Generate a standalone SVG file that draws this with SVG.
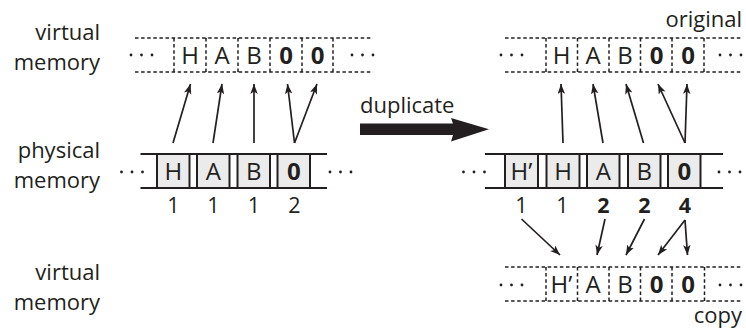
<svg xmlns="http://www.w3.org/2000/svg" width="746" height="333" viewBox="0 0 746 333">
  <style>
    text { font-family: "Open Sans", "Noto Sans", "DejaVu Sans", sans-serif; fill: #231f20; }
    .label { font-size: 22px; text-anchor: end; }
    .cell { font-size: 24px; text-anchor: middle; }
    .bold { font-weight: bold; }
    .num { font-size: 21.5px; text-anchor: middle; }
    .dotted { fill: none; stroke: #231f20; stroke-width: 1.5; stroke-dasharray: 3.5 2.6; }
    .rail { fill: none; stroke: #231f20; stroke-width: 2; }
    .box { fill: #ebebeb; stroke: #231f20; stroke-width: 2; }
    .dot { fill: #231f20; }
    .arrow { fill: none; stroke: #231f20; stroke-width: 1.7; marker-end: url(#head); }
  </style>
  <defs>
    <marker id="head" markerUnits="userSpaceOnUse" markerWidth="11" markerHeight="8" refX="10" refY="3.75" orient="auto">
      <path d="M0,0 L10,3.75 L0,7.5 L2.5,3.75 z" fill="#231f20"/>
    </marker>
    <g id="dots3">
      <circle cx="0" cy="0" r="1.4"/>
      <circle cx="10.5" cy="0" r="1.4"/>
      <circle cx="21" cy="0" r="1.4"/>
    </g>
  </defs>

  <!-- row labels -->
  <g id="labels">
    <text class="label" x="100" y="40">virtual</text>
    <text class="label" x="100" y="70">memory</text>
    <text class="label" x="100" y="158">physical</text>
    <text class="label" x="100" y="188">memory</text>
    <text class="label" x="100" y="280">virtual</text>
    <text class="label" x="100" y="310">memory</text>
  </g>

  <!-- left: virtual memory -->
  <g id="vm-left">
    <path class="dotted" d="M135,38 H373 M135,72 H373 M174,38 V72 M206,38 V72 M238,38 V72 M270,38 V72 M302,38 V72 M333,38 V72"/>
    <use href="#dots3" class="dot" x="131" y="55"/>
    <use href="#dots3" class="dot" x="352" y="55"/>
    <text class="cell" x="190" y="63.5">H</text>
    <text class="cell" x="222" y="63.5">A</text>
    <text class="cell" x="254" y="63.5">B</text>
    <text class="cell bold" x="286" y="63.5">0</text>
    <text class="cell bold" x="317.5" y="63.5">0</text>
  </g>

  <!-- left: physical memory -->
  <g id="pm-left">
    <path class="rail" d="M140.5,154 H327 M140.5,188 H327"/>
    <rect class="box" x="157" y="154" width="32.5" height="34"/>
    <rect class="box" x="197" y="154" width="32.5" height="34"/>
    <rect class="box" x="237.5" y="154" width="32.5" height="34"/>
    <rect class="box" x="277.5" y="154" width="32.5" height="34"/>
    <use href="#dots3" class="dot" x="121.5" y="172"/>
    <use href="#dots3" class="dot" x="330" y="172"/>
    <text class="cell" x="173.3" y="179.5">H</text>
    <text class="cell" x="213.3" y="179.5">A</text>
    <text class="cell" x="253.8" y="179.5">B</text>
    <text class="cell bold" x="293.8" y="179.5">0</text>
    <text class="num" x="173.3" y="213">1</text>
    <text class="num" x="213.3" y="213">1</text>
    <text class="num" x="253.8" y="213">1</text>
    <text class="num" x="294.5" y="213">2</text>
  </g>

  <!-- duplicate arrow -->
  <g id="duplicate">
    <text x="360" y="113" style="font-size:22px">duplicate</text>
    <path d="M360,123.5 H453 L451,118 L489,129.3 L451,141.5 L453,135 H360 Z" fill="#231f20"/>
  </g>

  <!-- right: original virtual memory -->
  <g id="vm-original">
    <text class="label" x="742" y="27">original</text>
    <path class="dotted" d="M505,38 H742 M505,72 H742 M546,38 V72 M577.5,38 V72 M609,38 V72 M640.5,38 V72 M672,38 V72 M704,38 V72"/>
    <use href="#dots3" class="dot" x="501" y="55"/>
    <use href="#dots3" class="dot" x="720" y="55"/>
    <text class="cell" x="561.5" y="63.5">H</text>
    <text class="cell" x="593" y="63.5">A</text>
    <text class="cell" x="625" y="63.5">B</text>
    <text class="cell bold" x="656.5" y="63.5">0</text>
    <text class="cell bold" x="688" y="63.5">0</text>
  </g>

  <!-- right: physical memory -->
  <g id="pm-right">
    <path class="rail" d="M485,154 H723 M485,188 H723"/>
    <rect class="box" x="505" y="154" width="33" height="34"/>
    <rect class="box" x="546.5" y="154" width="33" height="34"/>
    <rect class="box" x="587" y="154" width="32.5" height="34"/>
    <rect class="box" x="628" y="154" width="32.5" height="34"/>
    <rect class="box" x="668" y="154" width="32.5" height="34"/>
    <use href="#dots3" class="dot" x="463.5" y="172"/>
    <use href="#dots3" class="dot" x="719" y="172"/>
    <text class="cell" x="521.5" y="179.5">H’</text>
    <text class="cell" x="563" y="179.5">H</text>
    <text class="cell" x="603.3" y="179.5">A</text>
    <text class="cell" x="644.3" y="179.5">B</text>
    <text class="cell bold" x="684.3" y="179.5">0</text>
    <text class="num" x="521.5" y="213">1</text>
    <text class="num" x="562.5" y="213">1</text>
    <text class="num bold" x="603.5" y="213">2</text>
    <text class="num bold" x="644.5" y="213">2</text>
    <text class="num bold" x="685" y="213">4</text>
  </g>

  <!-- right: copied virtual memory -->
  <g id="vm-copy">
    <path class="dotted" d="M505,267 H742 M505,301 H742 M546,267 V301 M577.5,267 V301 M609,267 V301 M640.5,267 V301 M672,267 V301 M704.5,267 V301"/>
    <use href="#dots3" class="dot" x="501" y="285"/>
    <use href="#dots3" class="dot" x="720" y="285"/>
    <text class="cell" x="561.5" y="292.5">H’</text>
    <text class="cell" x="593" y="292.5">A</text>
    <text class="cell" x="625" y="292.5">B</text>
    <text class="cell bold" x="656.5" y="292.5">0</text>
    <text class="cell bold" x="688" y="292.5">0</text>
    <text class="label" x="742" y="323">copy</text>
  </g>

  <!-- page mappings -->
  <g id="connectors">
    <line class="arrow" x1="173" y1="143" x2="190.5" y2="84"/>
    <line class="arrow" x1="213" y1="143" x2="222" y2="84"/>
    <line class="arrow" x1="254" y1="143" x2="254" y2="84"/>
    <line class="arrow" x1="294.5" y1="143" x2="287.5" y2="84"/>
    <line class="arrow" x1="294.5" y1="143" x2="317" y2="84"/>

    <line class="arrow" x1="563" y1="143" x2="561" y2="84"/>
    <line class="arrow" x1="603" y1="143" x2="593" y2="84"/>
    <line class="arrow" x1="643.5" y1="143" x2="626" y2="84"/>
    <line class="arrow" x1="685" y1="143" x2="658" y2="84"/>
    <line class="arrow" x1="685" y1="143" x2="687" y2="84"/>

    <line class="arrow" x1="521.5" y1="219" x2="560" y2="255"/>
    <line class="arrow" x1="605" y1="219" x2="597" y2="255"/>
    <line class="arrow" x1="644.5" y1="219" x2="626" y2="255"/>
    <line class="arrow" x1="685" y1="220" x2="658" y2="255"/>
    <line class="arrow" x1="685" y1="220" x2="687.5" y2="255"/>
  </g>
</svg>
